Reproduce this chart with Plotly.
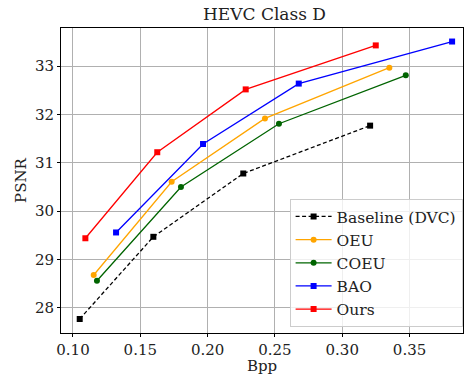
import plotly.graph_objects as go

baseline_x = [0.105, 0.1597, 0.2265, 0.3207]
baseline_y = [27.77, 29.47, 30.78, 31.77]
oeu_x = [0.1154, 0.1733, 0.2426, 0.335]
oeu_y = [28.68, 30.61, 31.92, 32.97]
coeu_x = [0.1178, 0.1802, 0.253, 0.3472]
coeu_y = [28.56, 30.50, 31.81, 32.81]
bao_x = [0.132, 0.1966, 0.2677, 0.3816]
bao_y = [29.56, 31.39, 32.64, 33.51]
ours_x = [0.1092, 0.1626, 0.2283, 0.3249]
ours_y = [29.44, 31.22, 32.52, 33.43]

series = [
    ("Baseline (DVC)", baseline_x, baseline_y, "black", "square", "4px,2.5px"),
    ("OEU", oeu_x, oeu_y, "orange", "circle", "solid"),
    ("COEU", coeu_x, coeu_y, "darkgreen", "circle", "solid"),
    ("BAO", bao_x, bao_y, "blue", "square", "solid"),
    ("Ours", ours_x, ours_y, "red", "square", "solid"),
]

fig = go.Figure()
for name, xs, ys, color, sym, dash in series:
    fig.add_trace(go.Scatter(
        x=xs, y=ys, name=name, mode="lines+markers",
        line=dict(color=color, width=1.3, dash=dash),
        marker=dict(color=color, symbol=sym, size=6),
    ))

font = "DejaVu Serif, serif"
fig.update_layout(
    width=464, height=375,
    margin=dict(l=61, r=1, t=28, b=42),
    plot_bgcolor="white", paper_bgcolor="white",
    font=dict(family=font, size=15, color="#222"),
    title=dict(text="HEVC Class D", x=0.57, xanchor="center", y=0.963, yanchor="middle",
               font=dict(family=font, size=17, color="#222")),
    xaxis=dict(range=[0.0911, 0.3897], tickvals=[0.10, 0.15, 0.20, 0.25, 0.30, 0.35],
               tickformat=".2f", showgrid=True, gridcolor="#b0b0b0", gridwidth=1,
               showline=True, linecolor="black", linewidth=1, mirror=True,
               ticks="outside", ticklen=3, tickcolor="black", zeroline=False,
               tickfont=dict(size=15), automargin=False,
               title=dict(text="Bpp", standoff=6, font=dict(family=font, size=15))),
    yaxis=dict(range=[27.48, 33.79], tickvals=[28, 29, 30, 31, 32, 33],
               showgrid=True, gridcolor="#b0b0b0", gridwidth=1,
               showline=True, linecolor="black", linewidth=1, mirror=True,
               ticks="outside", ticklen=3, tickcolor="black", zeroline=False,
               tickfont=dict(size=15), automargin=False,
               title=dict(text="PSNR", standoff=4, font=dict(family=font, size=15))),
    legend=dict(x=0.999, y=0.02, xanchor="right", yanchor="bottom",
                bgcolor="rgba(255,255,255,0.8)", bordercolor="#cccccc", borderwidth=1,
                font=dict(family=font, size=15.5), tracegroupgap=0, itemwidth=36),
)

fig.write_html("out.html")
